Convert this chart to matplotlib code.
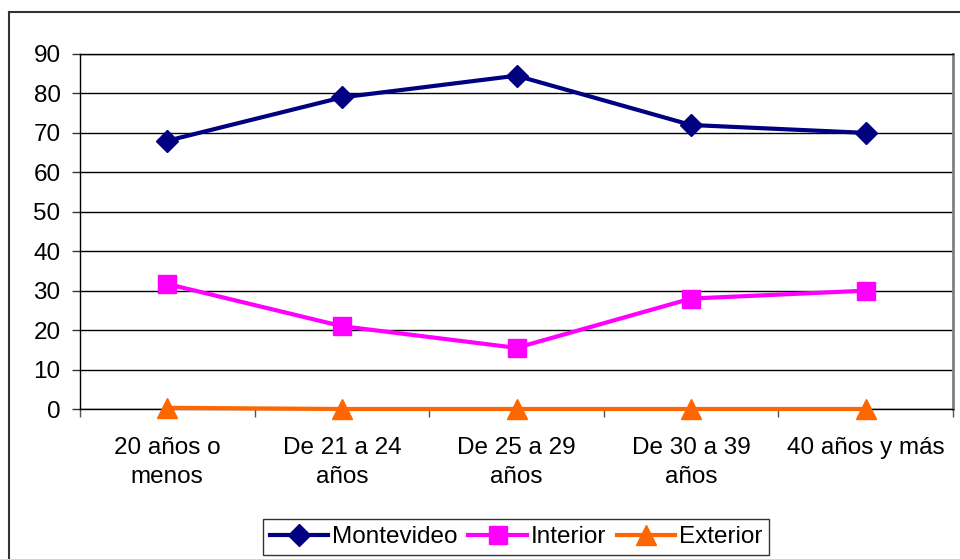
import numpy as np
import matplotlib.pyplot as plt
from matplotlib.lines import Line2D

plt.rcParams['font.family'] = ['Liberation Sans', 'DejaVu Sans']

categorias = ['20 años o\nmenos', 'De 21 a 24\naños', 'De 25 a 29\naños',
              'De 30 a 39\naños', '40 años y más']
montevideo = [68, 79, 84.5, 72, 70]
interior = [31.7, 21, 15.5, 28, 30]
exterior = [0.3, 0, 0, 0, 0]

W, H = 960, 559
fs = 17.5
fig = plt.figure(figsize=(W/100, H/100), dpi=100)
ax = fig.add_axes([80/W, 1-409/H, (953-80)/W, (409-54)/H])

x = np.arange(len(categorias))
ax.plot(x, montevideo, color='#000080', lw=3, marker='D', ms=11.5, label='Montevideo', clip_on=False, zorder=4)
ax.plot(x, interior, color='#FF00FF', lw=3, marker='s', ms=12.5, label='Interior', clip_on=False, zorder=4)
ax.plot(x, exterior, color='#FF6600', lw=3, marker='^', ms=14, label='Exterior', clip_on=False, zorder=4)

ax.set_xlim(-0.5, len(categorias)-0.5)
ax.set_ylim(0, 90)
ax.set_yticks(np.arange(0, 91, 10))
ax.tick_params(axis='y', labelsize=fs, length=6, width=1, pad=8, color='#333333')
ax.set_xticks(x)
ax.set_xticklabels(categorias, fontsize=fs, linespacing=1.45)
ax.tick_params(axis='x', which='major', length=0, pad=20)
ax.set_xticks(np.arange(-0.5, len(categorias), 1), minor=True)
ax.tick_params(axis='x', which='minor', length=6, width=1, color='#555555')
ax.grid(axis='y', color='black', lw=1)
ax.set_axisbelow(True)
for s in ['left', 'top', 'bottom']:
    ax.spines[s].set_color('black')
    ax.spines[s].set_linewidth(1)
ax.spines['right'].set_color('#808080')
ax.spines['right'].set_linewidth(2)

leg = ax.legend(loc='center', bbox_to_anchor=((516-80)/(953-80), -(537-409)/(409-54)),
                ncol=3, fontsize=fs, frameon=True, fancybox=False, edgecolor='black',
                handlelength=2.4, handletextpad=0.15, columnspacing=0.45,
                borderpad=0.3, borderaxespad=0)
leg.get_frame().set_linewidth(1)

# outer chart border
fig.add_artist(Line2D([9/W, 9/W], [0, 1-12/H], color='#333333', lw=1.5))
fig.add_artist(Line2D([9/W, 1], [1-12/H, 1-12/H], color='#333333', lw=1.5))

fig.savefig('out.png', dpi=100)
